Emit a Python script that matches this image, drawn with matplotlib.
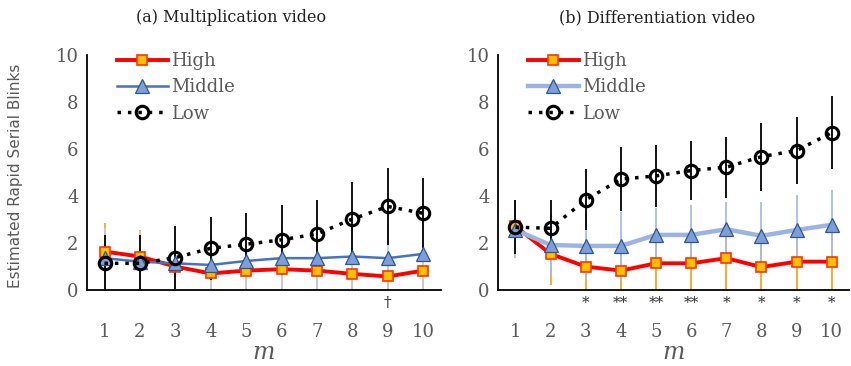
import numpy as np
import matplotlib.pyplot as plt

m = np.arange(1, 11)

# (a) Multiplication video
mult_high = [1.63, 1.42, 0.99, 0.70, 0.82, 0.88, 0.82, 0.68, 0.57, 0.82]
mult_high_err = [1.21, 1.13, 1.10, 1.10, 1.10, 1.10, 1.10, 1.10, 1.10, 1.10]
mult_mid = [1.35, 1.20, 1.13, 1.06, 1.23, 1.35, 1.35, 1.42, 1.35, 1.53]
mult_mid_err = [1.30, 1.30, 1.30, 1.30, 1.30, 1.30, 1.30, 1.40, 1.40, 1.50]
mult_low = [1.13, 1.13, 1.37, 1.77, 1.94, 2.13, 2.38, 3.01, 3.55, 3.26]
mult_low_err = [1.21, 1.21, 1.33, 1.35, 1.35, 1.49, 1.45, 1.56, 1.63, 1.49]
mult_sig = ['', '', '', '', '', '', '', '', '\u2020', '']

# (b) Differentiation video
diff_high = [2.70, 1.53, 0.99, 0.82, 1.13, 1.13, 1.35, 0.97, 1.20, 1.20]
diff_high_err = [1.10, 1.32, 1.20, 1.20, 1.20, 1.20, 1.30, 1.20, 1.25, 1.25]
diff_mid = [2.55, 1.91, 1.87, 1.87, 2.34, 2.34, 2.58, 2.30, 2.55, 2.77]
diff_mid_err = [1.20, 1.30, 1.40, 1.46, 1.14, 1.28, 1.18, 1.46, 1.49, 1.46]
diff_low = [2.67, 2.62, 3.83, 4.71, 4.85, 5.08, 5.22, 5.67, 5.93, 6.69]
diff_low_err = [1.16, 1.21, 1.30, 1.36, 1.32, 1.27, 1.30, 1.45, 1.44, 1.54]
diff_sig = ['', '', '*', '**', '**', '**', '*', '*', '*', '*']

serif = 'DejaVu Serif'
gray = '#595959'


def panel(ax, high, high_err, mid, mid_err, low, low_err, sig,
          mid_line, mid_lw, mid_errc):
    ax.errorbar(m, high, yerr=high_err, fmt='none', ecolor='#F5A623',
                elinewidth=1.3, zorder=1)
    ax.errorbar(m, mid, yerr=mid_err, fmt='none', ecolor=mid_errc,
                elinewidth=1.3, zorder=1.5)
    ax.errorbar(m, low, yerr=low_err, fmt='none', ecolor='black',
                elinewidth=1.3, zorder=2)
    ax.plot(m, high, color='#FF0000', lw=2.8, marker='s', ms=7.5,
            mfc='#FFC000', mec='#FF3300', mew=1.2, label='High', zorder=3)
    ax.plot(m, mid, color=mid_line, lw=mid_lw, marker='^', ms=10,
            mfc='#7E9ED6', mec='#2F5597', mew=0.9, label='Middle', zorder=4)
    ax.plot(m, low, color='black', lw=2.5, ls=(0, (1, 2)), marker='o', ms=9,
            mfc='none', mec='black', mew=2.2, label='Low', zorder=5)

    ax.set_xlim(0.5, 10.5)
    ax.set_ylim(0, 10)
    ax.set_xticks(m)
    ax.set_yticks(range(0, 11, 2))
    ax.tick_params(length=0, labelsize=13, labelcolor=gray, pad=6)
    ax.tick_params(axis='x', pad=24)
    for lab in ax.get_xticklabels() + ax.get_yticklabels():
        lab.set_family(serif)
    for s in ['top', 'right']:
        ax.spines[s].set_visible(False)
    for s in ['left', 'bottom']:
        ax.spines[s].set_linewidth(1.3)
    for x, s in zip(m, sig):
        if s:
            ax.text(x, -0.25, s, ha='center', va='top', fontsize=11,
                    family=serif, color='#333333', clip_on=False)
    ax.set_xlabel('m', fontsize=17, style='italic', family=serif,
                  color=gray, labelpad=0)
    leg = ax.legend(loc='upper left', bbox_to_anchor=(0.04, 1.08),
                    frameon=False, handlelength=2.8, handletextpad=0.2,
                    labelspacing=0.45, prop={'family': serif, 'size': 13})
    for t in leg.get_texts():
        t.set_color(gray)


fig = plt.figure(figsize=(8.51, 3.66), dpi=100)
ax1 = fig.add_axes([0.102, 0.208, 0.416, 0.642])
ax2 = fig.add_axes([0.585, 0.208, 0.413, 0.642])

panel(ax1, mult_high, mult_high_err, mult_mid, mult_mid_err,
      mult_low, mult_low_err, mult_sig, '#4472C4', 1.8, '#C8CCD4')
panel(ax2, diff_high, diff_high_err, diff_mid, diff_mid_err,
      diff_low, diff_low_err, diff_sig, '#9DB4E2', 3.2, '#A9BDE3')

fig.text(0.272, 0.951, '(a) Multiplication video', ha='center', va='center',
         family=serif, fontsize=11.5, color='#222222')
fig.text(0.772, 0.951, '(b) Differentiation video', ha='center', va='center',
         family=serif, fontsize=11.5, color='#222222')
fig.text(0.018, 0.52, 'Estimated Rapid Serial Blinks', rotation=90,
         ha='center', va='center', fontsize=11, color=gray)

fig.savefig('out.png', dpi=100)
